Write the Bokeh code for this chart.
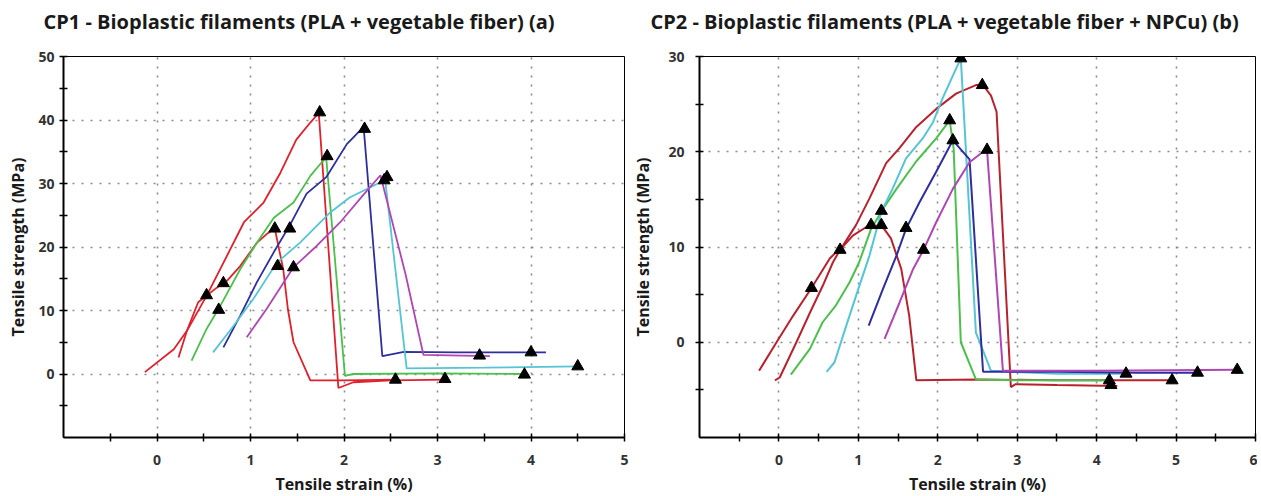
from bokeh.plotting import figure
from bokeh.layouts import row
from bokeh.models import FixedTicker, Title
from bokeh.embed import file_html
from bokeh.resources import INLINE

# ---------------- CP1 data (tensile strain %, tensile strength MPa) ----------------
cp1_redA_x = [-0.13, 0.18, 0.32, 0.53, 0.71, 0.93, 1.14, 1.32, 1.49, 1.64, 1.73, 1.94, 2.1, 2.5, 3.1]
cp1_redA_y = [0.3, 3.9, 6.8, 12.3, 17.5, 23.9, 27.0, 31.7, 36.9, 39.6, 41.1, -2.2, -1.3, -1.0, -0.9]
cp1_redB_x = [0.23, 0.32, 0.44, 0.64, 0.75, 0.89, 1.07, 1.17, 1.26, 1.35, 1.40, 1.46, 1.64, 2.0, 2.55]
cp1_redB_y = [2.6, 6.8, 11.3, 13.6, 14.7, 17.0, 20.7, 22.0, 22.9, 16.5, 10.2, 5.0, -1.0, -1.0, -0.9]
cp1_green_x = [0.37, 0.53, 0.68, 0.89, 1.07, 1.25, 1.46, 1.64, 1.76, 1.81, 2.01, 2.1, 3.0, 3.95]
cp1_green_y = [2.1, 7.1, 10.8, 16.5, 20.7, 24.6, 27.0, 31.2, 33.3, 34.0, -0.3, 0.0, 0.1, 0.0]
cp1_blue_x = [0.71, 0.89, 1.07, 1.25, 1.42, 1.6, 1.81, 2.03, 2.21, 2.41, 2.64, 3.2, 4.16]
cp1_blue_y = [4.2, 9.2, 14.5, 19.2, 23.4, 28.4, 31.0, 36.2, 38.9, 2.8, 3.5, 3.4, 3.4]
cp1_cyan_x = [0.6, 0.82, 1.03, 1.28, 1.53, 1.85, 2.06, 2.31, 2.44, 2.67, 3.5, 4.5]
cp1_cyan_y = [3.4, 7.6, 11.8, 17.5, 20.7, 25.4, 27.8, 29.6, 30.6, 0.9, 1.0, 1.2]
cp1_magenta_x = [0.96, 1.17, 1.46, 1.71, 1.96, 2.2, 2.39, 2.66, 2.85, 3.56]
cp1_magenta_y = [5.8, 10.2, 16.8, 20.2, 23.9, 28.1, 31.3, 15.6, 3.0, 2.8]
cp1_mark_x = [0.53, 0.71, 0.66, 1.26, 1.42, 1.29, 1.46, 1.74, 1.82, 2.22, 2.46, 2.43, 2.55, 3.08, 3.93, 3.45, 4.0, 4.5]
cp1_mark_y = [12.4, 14.3, 10.1, 22.9, 22.9, 17.0, 16.8, 41.2, 34.3, 38.6, 31.0, 30.5, -0.9, -0.8, -0.1, 2.9, 3.4, 1.2]

# ---------------- CP2 data ----------------
cp2_red1_x = [-0.25, -0.03, 0.18, 0.41, 0.64, 0.81, 0.97, 1.14, 1.35, 1.52, 1.73, 1.98, 2.23, 2.48, 2.57, 2.67, 2.74, 2.92, 2.98, 3.5, 4.26]
cp2_red1_y = [-3.0, 0.0, 2.8, 5.7, 8.8, 10.2, 12.3, 15.1, 18.8, 20.4, 22.6, 24.5, 26.1, 27.0, 27.0, 25.9, 24.2, -4.7, -4.4, -4.5, -4.6]
cp2_red2_x = [-0.05, 0.01, 0.22, 0.39, 0.55, 0.68, 0.77, 0.93, 1.1, 1.29, 1.41, 1.54, 1.64, 1.73, 2.5, 3.5, 4.95]
cp2_red2_y = [-4.0, -3.7, 0.0, 3.1, 5.9, 8.4, 9.7, 11.2, 12.1, 12.3, 10.9, 7.7, 2.8, -4.0, -3.9, -4.0, -4.0]
cp2_green_x = [0.15, 0.39, 0.55, 0.72, 0.89, 1.01, 1.16, 1.31, 1.48, 1.73, 1.98, 2.15, 2.2, 2.29, 2.48, 3.0, 4.16]
cp2_green_y = [-3.4, -0.7, 2.1, 3.9, 6.3, 8.4, 11.9, 14.0, 16.1, 19.0, 21.4, 23.3, 20.3, 0.0, -3.9, -4.0, -4.0]
cp2_cyan_x = [0.6, 0.7, 0.85, 1.0, 1.14, 1.29, 1.43, 1.6, 1.81, 1.94, 2.06, 2.19, 2.29, 2.33, 2.48, 2.67, 3.5, 4.37]
cp2_cyan_y = [-3.1, -2.1, 1.8, 5.6, 9.1, 13.7, 16.1, 19.3, 21.4, 23.1, 25.6, 28.0, 29.8, 23.8, 1.0, -3.0, -3.3, -3.3]
cp2_blue_x = [1.13, 1.31, 1.48, 1.6, 1.77, 1.98, 2.19, 2.4, 2.57, 3.5, 4.5, 5.27]
cp2_blue_y = [1.75, 5.6, 9.1, 11.9, 14.7, 17.9, 21.2, 19.2, -3.1, -3.1, -3.2, -3.2]
cp2_magenta_x = [1.33, 1.52, 1.69, 1.82, 1.98, 2.19, 2.4, 2.57, 2.62, 2.82, 4.0, 5.77]
cp2_magenta_y = [0.35, 4.2, 7.7, 9.7, 12.6, 16.1, 18.9, 20.0, 20.2, -3.0, -3.0, -2.9]
cp2_mark_x = [0.41, 2.56, 4.18, 0.77, 1.29, 4.95, 1.16, 2.15, 4.16, 1.29, 2.29, 4.37, 1.6, 2.19, 5.27, 1.82, 2.62, 5.77]
cp2_mark_y = [5.7, 27.0, -4.5, 9.7, 12.3, -4.0, 12.3, 23.3, -4.0, 13.8, 29.8, -3.3, 12.0, 21.2, -3.2, 9.7, 20.2, -2.9]

# tick definitions
cp1_x_ticks = [0, 1, 2, 3, 4, 5]
cp1_x_minor = [-0.5, 0.5, 1.5, 2.5, 3.5, 4.5]
cp1_y_ticks = [0, 10, 20, 30, 40, 50]
cp1_y_minor = [-5, 5, 15, 25, 35, 45]
cp2_x_ticks = [0, 1, 2, 3, 4, 5, 6]
cp2_x_minor = [-0.5, 0.5, 1.5, 2.5, 3.5, 4.5, 5.5]
cp2_y_ticks = [0, 10, 20, 30]
cp2_y_minor = [-5, 5, 15, 25]

cp1_title = "CP1 - Bioplastic filaments (PLA + vegetable fiber) (a)"
cp2_title = "CP2 - Bioplastic filaments (PLA + vegetable fiber + NPCu) (b)"

FONT = "Open Sans"


def make_fig(title, offset, xr, yr, xt, xm, yt, ym, fw, mbl, mbr, ylab_so, yax_so):
    p = figure(output_backend="svg", toolbar_location=None,
               frame_width=fw, frame_height=381,
               x_range=xr, y_range=yr,
               min_border_left=mbl, min_border_right=mbr,
               min_border_top=56, min_border_bottom=57,
               background_fill_color="white", border_fill_color="white")
    # default title left empty; invisible spacer next to the frame, real title above it
    p.title.text = ""
    p.add_layout(Title(text=" ", text_font_size="10px", standoff=9), "above")
    p.add_layout(Title(text=title, align="left", offset=offset, standoff=0,
                       text_font=FONT, text_font_size="20px",
                       text_font_style="bold", text_color="#1a1a1a"), "above")

    p.outline_line_color = "black"
    p.outline_line_width = 1
    p.outline_line_alpha = 1

    p.xaxis.ticker = FixedTicker(ticks=xt, minor_ticks=xm)
    p.yaxis.ticker = FixedTicker(ticks=yt, minor_ticks=ym)
    for ax in (p.xaxis[0], p.yaxis[0]):
        ax.axis_line_color = "black"
        ax.axis_line_width = 2
        ax.major_tick_line_color = "black"
        ax.minor_tick_line_color = "black"
        ax.major_tick_line_width = 1.5
        ax.minor_tick_line_width = 1.5
        ax.major_tick_in = 4
        ax.major_tick_out = 4
        ax.minor_tick_in = 4
        ax.minor_tick_out = 4
        ax.major_label_text_font = FONT
        ax.major_label_text_font_size = "14px"
        ax.major_label_text_font_style = "bold"
        ax.major_label_text_color = "#333333"
        ax.axis_label_text_font = FONT
        ax.axis_label_text_font_size = "16px"
        ax.axis_label_text_font_style = "bold"
        ax.axis_label_text_color = "#1a1a1a"
    p.xaxis.axis_label = "Tensile strain (%)"
    p.yaxis.axis_label = "Tensile strength (MPa)"
    p.xaxis.major_label_standoff = 13
    p.xaxis.axis_label_standoff = 5
    p.yaxis.major_label_standoff = ylab_so
    p.yaxis.axis_label_standoff = yax_so

    p.xgrid.ticker = FixedTicker(ticks=xt)
    p.ygrid.ticker = FixedTicker(ticks=yt)
    for g in (p.xgrid[0], p.ygrid[0]):
        g.grid_line_color = "#8c8c8c"
        g.grid_line_width = 1.6
        g.grid_line_dash = "2 7"
    return p


p1 = make_fig(cp1_title, -20, (-1, 5), (-10, 50), cp1_x_ticks, cp1_x_minor,
              cp1_y_ticks, cp1_y_minor, 561, 63, 5, 5, 6)
LW = 1.8
p1.line(cp1_redA_x, cp1_redA_y, color="#e0202c", line_width=LW)
p1.line(cp1_redB_x, cp1_redB_y, color="#e0202c", line_width=LW)
p1.line(cp1_green_x, cp1_green_y, color="#4cbf4c", line_width=LW)
p1.line(cp1_blue_x, cp1_blue_y, color="#2e2e9e", line_width=LW)
p1.line(cp1_cyan_x, cp1_cyan_y, color="#55c4d4", line_width=LW)
p1.line(cp1_magenta_x, cp1_magenta_y, color="#b046b4", line_width=LW)
p1.scatter(cp1_mark_x, cp1_mark_y, marker="triangle", size=12, color="black")

p2 = make_fig(cp2_title, -49, (-1, 6), (-10, 30), cp2_x_ticks, cp2_x_minor,
              cp2_y_ticks, cp2_y_minor, 556, 67, 2, 11, 11)
LW2 = 2
p2.line(cp2_red1_x, cp2_red1_y, color="#b8222e", line_width=LW2)
p2.line(cp2_red2_x, cp2_red2_y, color="#b8222e", line_width=LW2)
p2.line(cp2_green_x, cp2_green_y, color="#4cbf4c", line_width=LW2)
p2.line(cp2_cyan_x, cp2_cyan_y, color="#55c4d4", line_width=LW2)
p2.line(cp2_blue_x, cp2_blue_y, color="#2e2e9e", line_width=LW2)
p2.line(cp2_magenta_x, cp2_magenta_y, color="#b046b4", line_width=LW2)
p2.scatter(cp2_mark_x, cp2_mark_y, marker="triangle", size=12, color="black")

layout = row(p1, p2)
open("out.html", "w").write(file_html(layout, INLINE))
